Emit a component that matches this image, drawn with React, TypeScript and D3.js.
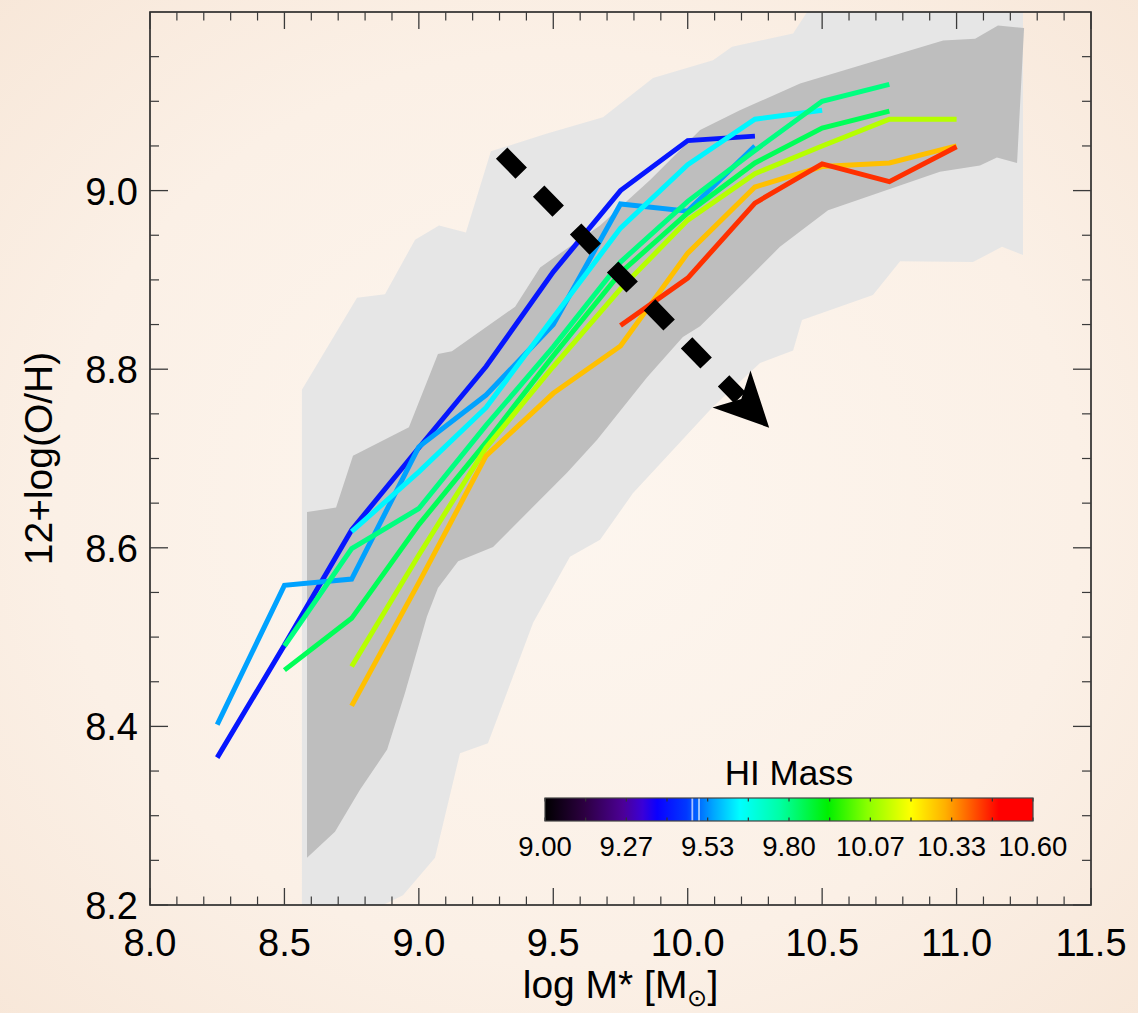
import React from "react";
import * as d3 from "d3";

// ---------- data ----------
const X_DOMAIN = [8.0, 11.5];
const Y_DOMAIN = [8.2, 9.2];
const X_TICKS = [8.0, 8.5, 9.0, 9.5, 10.0, 10.5, 11.0, 11.5];
const Y_TICKS = [8.2, 8.4, 8.6, 8.8, 9.0];

// stellar mass bins (log M*)
const MASS = [8.25, 8.5, 8.75, 9.0, 9.25, 9.5, 9.75, 10.0, 10.25, 10.5, 10.75, 11.0];

// metallicity per HI-mass bin (null = no data)
const OH_BLUE = [8.365, 8.491, 8.62, 8.712, 8.803, 8.909, 9.0, 9.056, 9.061, null, null, null];
const OH_LIGHTBLUE = [8.402, 8.558, 8.565, 8.713, 8.771, 8.85, 8.985, 8.977, 9.05, null, null, null];
const OH_CYAN = [null, null, 8.618, 8.685, 8.757, 8.858, 8.958, 9.029, 9.08, 9.09, null, null];
const OH_TEAL = [null, 8.49, 8.599, 8.644, 8.737, 8.825, 8.92, 8.988, 9.045, 9.1, 9.119, null];
const OH_GREEN = [null, 8.463, 8.521, 8.626, 8.718, 8.815, 8.908, 8.975, 9.031, 9.07, 9.089, null];
const OH_YELLOWGREEN = [null, null, 8.467, 8.592, 8.712, 8.803, 8.89, 8.967, 9.019, 9.05, 9.08, 9.08];
const OH_ORANGE = [null, null, 8.423, 8.561, 8.703, 8.773, 8.826, 8.93, 9.004, 9.027, 9.031, 9.05];
const OH_RED = [null, null, null, null, null, null, 8.849, 8.902, 8.986, 9.03, 9.01, 9.049];

const SERIES_VALUES = [OH_BLUE, OH_LIGHTBLUE, OH_CYAN, OH_TEAL, OH_GREEN, OH_YELLOWGREEN, OH_ORANGE, OH_RED];
const SERIES_COLORS = ["#0616ff", "#00a2ff", "#00f6ff", "#00ff80", "#00ff58", "#b6ff00", "#ffc000", "#ff3000"];

// outer (light) contour of the full sample: [logM*, 12+log(O/H)]
const OUTER_CONTOUR = [
  [8.565, 8.2], [8.565, 8.777], [8.77, 8.88], [8.874, 8.884], [8.986, 8.945], [9.075, 8.961],
  [9.175, 8.953], [9.268, 9.044], [9.477, 9.064], [9.685, 9.082], [9.871, 9.126], [10.094, 9.146],
  [10.165, 9.161], [10.392, 9.176], [10.444, 9.2], [11.247, 9.2], [11.247, 8.928], [11.169, 8.937],
  [11.061, 8.92], [10.79, 8.921], [10.689, 8.883], [10.425, 8.855], [10.392, 8.821], [10.269, 8.807],
  [10.094, 8.758], [9.796, 8.661], [9.674, 8.609], [9.562, 8.59], [9.425, 8.516], [9.257, 8.381],
  [9.153, 8.37], [9.06, 8.253], [8.941, 8.211], [8.867, 8.2],
];
// inner (dark) contour
const INNER_CONTOUR = [
  [8.584, 8.253], [8.584, 8.64], [8.692, 8.645], [8.755, 8.703], [8.963, 8.735], [9.071, 8.817],
  [9.123, 8.82], [9.358, 8.87], [9.451, 8.914], [9.674, 8.961], [9.86, 9.012], [10.046, 9.068],
  [10.194, 9.09], [10.418, 9.12], [10.95, 9.168], [11.069, 9.17], [11.154, 9.185], [11.251, 9.182],
  [11.225, 9.031], [11.15, 9.037], [11.087, 9.028], [10.938, 9.021], [10.522, 8.978], [10.343, 8.937],
  [10.22, 8.9], [10.046, 8.848], [9.982, 8.836], [9.849, 8.791], [9.663, 8.721], [9.551, 8.684],
  [9.276, 8.601], [9.146, 8.585], [9.071, 8.555], [9.03, 8.523], [8.948, 8.437], [8.882, 8.374],
  [8.781, 8.329], [8.688, 8.282],
];

// trend arrow (start, tip) in data coordinates
const ARROW_START = [9.308, 9.042];
const ARROW_TIP = [10.303, 8.7345];

// colour bar
const CBAR_DOMAIN = [9.0, 10.6];
const CBAR_LABELS = ["9.00", "9.27", "9.53", "9.80", "10.07", "10.33", "10.60"];
const CBAR_STOPS = [
  [0.0, "#000000"], [0.08, "#2c0040"], [0.16, "#4c0096"], [0.2, "#3a00d8"], [0.23, "#0a00ff"],
  [0.29, "#0038ff"], [0.345, "#00a6ff"], [0.4, "#00ffff"], [0.48, "#00ffa6"], [0.58, "#00f000"],
  [0.66, "#88ff00"], [0.75, "#ffff00"], [0.82, "#ffb000"], [0.88, "#ff5000"], [0.93, "#ff0000"], [1.0, "#ff0000"],
];
const CBAR_STRIPES = [9.483, 9.505];

const FONT = "'Liberation Sans', Arial, Helvetica, sans-serif";

export default function App() {
  const W = 1138;
  const H = 1013;
  const x = d3.scaleLinear().domain(X_DOMAIN).range([150, 1091]);
  const y = d3.scaleLinear().domain(Y_DOMAIN).range([905, 12]);
  const [x0, x1] = x.range();
  const [y0, y1] = y.range(); // y0 bottom, y1 top

  const xMinor = d3.range(80, 116).map((i) => i / 10).filter((v) => Math.abs(v * 2 - Math.round(v * 2)) > 1e-6);
  const yMinor = d3.range(164, 185).map((i) => i / 20).filter((v) => Math.abs(v * 5 - Math.round(v * 5)) > 1e-6);

  const line = d3
    .line<[number, number | null]>()
    .defined((d) => d[1] != null)
    .x((d) => x(d[0]))
    .y((d) => y(d[1] as number));

  const area = d3
    .line<number[]>()
    .x((d) => x(d[0]))
    .y((d) => y(d[1]));

  // arrow geometry
  const sx = x(ARROW_START[0]), sy = y(ARROW_START[1]);
  const tx = x(ARROW_TIP[0]), ty = y(ARROW_TIP[1]);
  const len = Math.hypot(tx - sx, ty - sy);
  const ux = (tx - sx) / len, uy = (ty - sy) / len;
  const nx = -uy, ny = ux;
  const headLen = 54, headHalf = 26.5, notch = 40;
  const head = [
    [tx, ty],
    [tx - ux * headLen + nx * headHalf, ty - uy * headLen + ny * headHalf],
    [tx - ux * notch, ty - uy * notch],
    [tx - ux * headLen - nx * headHalf, ty - uy * headLen - ny * headHalf],
  ];
  const shaftEnd = [tx - ux * (notch + 2), ty - uy * (notch + 2)];

  // colour bar
  const cb = d3.scaleLinear().domain(CBAR_DOMAIN).range([545, 1033]);
  const cbTop = 798, cbBot = 821;
  const cbTicks = d3.range(0, 13).map((i) => CBAR_DOMAIN[0] + (i * (CBAR_DOMAIN[1] - CBAR_DOMAIN[0])) / 12);
  const cbLabelVals = CBAR_LABELS.map((_, i) => CBAR_DOMAIN[0] + (i * (CBAR_DOMAIN[1] - CBAR_DOMAIN[0])) / 6);

  const tickColor = "#3a3a3a";

  return (
    <svg
      width={W}
      height={H}
      style={{ position: "absolute", left: 0, top: 0 }}
      fontFamily={FONT}
    >
      <defs>
        <radialGradient id="bg" cx="50%" cy="50%" r="75%">
          <stop offset="0%" stopColor="#fdf6ef" />
          <stop offset="60%" stopColor="#fbf0e6" />
          <stop offset="100%" stopColor="#f7e6d7" />
        </radialGradient>
        <linearGradient id="cbar" x1="0" x2="1" y1="0" y2="0">
          {CBAR_STOPS.map(([o, c], i) => (
            <stop key={i} offset={`${(o as number) * 100}%`} stopColor={c as string} />
          ))}
        </linearGradient>
        <clipPath id="plotClip">
          <rect x={x0} y={y1} width={x1 - x0} height={y0 - y1} />
        </clipPath>
      </defs>

      <rect x={0} y={0} width={W} height={H} fill="url(#bg)" />

      {/* contours */}
      <g clipPath="url(#plotClip)">
        <path d={area(OUTER_CONTOUR) + "Z"} fill="#e6e6e6" />
        <path d={area(INNER_CONTOUR) + "Z"} fill="#bebebe" />
      </g>

      {/* series */}
      <g clipPath="url(#plotClip)">
        {SERIES_VALUES.map((vals, i) => (
          <path
            key={i}
            d={line(MASS.map((m, j) => [m, vals[j]] as [number, number | null])) || ""}
            fill="none"
            stroke={SERIES_COLORS[i]}
            strokeWidth={5}
            strokeLinejoin="miter"
          />
        ))}
      </g>

      {/* dashed arrow */}
      <line
        x1={sx}
        y1={sy}
        x2={shaftEnd[0]}
        y2={shaftEnd[1]}
        stroke="#000"
        strokeWidth={16}
        strokeDasharray="28 25"
      />
      <polygon points={head.map((p) => p.join(",")).join(" ")} fill="#000" />

      {/* frame */}
      <rect x={x0} y={y1} width={x1 - x0} height={y0 - y1} fill="none" stroke="#222" strokeWidth={1.6} />

      {/* x ticks (bottom and top) */}
      {X_TICKS.map((v) => (
        <g key={"xt" + v}>
          <line x1={x(v)} x2={x(v)} y1={y0} y2={y0 - 17} stroke={tickColor} strokeWidth={1.3} />
          <line x1={x(v)} x2={x(v)} y1={y1} y2={y1 + 17} stroke={tickColor} strokeWidth={1.3} />
          <text x={x(v)} y={956} textAnchor="middle" fontSize={38} fill="#000">
            {v.toFixed(1)}
          </text>
        </g>
      ))}
      {xMinor.map((v) => (
        <g key={"xm" + v}>
          <line x1={x(v)} x2={x(v)} y1={y0} y2={y0 - 8.5} stroke={tickColor} strokeWidth={1.2} />
          <line x1={x(v)} x2={x(v)} y1={y1} y2={y1 + 8.5} stroke={tickColor} strokeWidth={1.2} />
        </g>
      ))}

      {/* y ticks (left and right) */}
      {Y_TICKS.map((v) => (
        <g key={"yt" + v}>
          <line x1={x0} x2={x0 + 18} y1={y(v)} y2={y(v)} stroke={tickColor} strokeWidth={1.3} />
          <line x1={x1} x2={x1 - 18} y1={y(v)} y2={y(v)} stroke={tickColor} strokeWidth={1.3} />
          <text x={138} y={y(v) + 14} textAnchor="end" fontSize={38} fill="#000">
            {v.toFixed(1)}
          </text>
        </g>
      ))}
      {yMinor.map((v) => (
        <g key={"ym" + v}>
          <line x1={x0} x2={x0 + 9} y1={y(v)} y2={y(v)} stroke={tickColor} strokeWidth={1.2} />
          <line x1={x1} x2={x1 - 9} y1={y(v)} y2={y(v)} stroke={tickColor} strokeWidth={1.2} />
        </g>
      ))}

      {/* axis titles */}
      <text x={(x0 + x1) / 2} y={998} textAnchor="middle" fontSize={39} fill="#000">
        log M* [M
        <tspan fontSize={24} dy={8}>
          ⊙
        </tspan>
        <tspan dy={-8}>]</tspan>
      </text>
      <text
        transform={`translate(52, ${(y0 + y1) / 2}) rotate(-90)`}
        textAnchor="middle"
        fontSize={39}
        fill="#000"
      >
        12+log(O/H)
      </text>

      {/* colour bar */}
      <text x={(cb.range()[0] + cb.range()[1]) / 2} y={785} textAnchor="middle" fontSize={35} fill="#000">
        HI Mass
      </text>
      <rect x={cb.range()[0]} y={cbTop} width={cb.range()[1] - cb.range()[0]} height={cbBot - cbTop} fill="url(#cbar)" />
      {CBAR_STRIPES.map((v) => (
        <line key={"st" + v} x1={cb(v)} x2={cb(v)} y1={cbTop} y2={cbBot} stroke="#ffffff" strokeOpacity={0.65} strokeWidth={1.8} />
      ))}
      {cbTicks.map((v, i) => (
        <g key={"cbt" + i}>
          <line x1={cb(v)} x2={cb(v)} y1={cbTop} y2={cbTop + 3.5} stroke="#333" strokeWidth={1.2} />
          <line x1={cb(v)} x2={cb(v)} y1={cbBot} y2={cbBot - 3.5} stroke="#333" strokeWidth={1.2} />
        </g>
      ))}
      <rect
        x={cb.range()[0]}
        y={cbTop}
        width={cb.range()[1] - cb.range()[0]}
        height={cbBot - cbTop}
        fill="none"
        stroke="#444"
        strokeWidth={1.2}
      />
      {CBAR_LABELS.map((t, i) => (
        <text key={"cbl" + i} x={cb(cbLabelVals[i])} y={856} textAnchor="middle" fontSize={27.5} fill="#000">
          {t}
        </text>
      ))}
    </svg>
  );
}
